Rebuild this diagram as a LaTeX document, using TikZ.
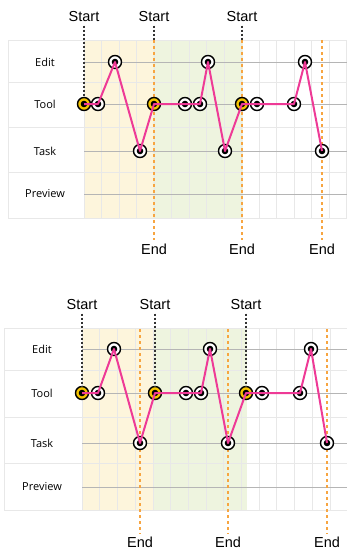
\documentclass[tikz,border=0pt]{standalone}
\usepackage{fontspec}
\usepackage{tikz}
\usetikzlibrary{arrows}
\newfontfamily\rowfont{Open Sans}
\newfontfamily\markfont{Liberation Sans}
\definecolor{bgyellow}{HTML}{FDF5DC}
\definecolor{bggreen}{HTML}{EEF4DF}
\definecolor{gridgray}{HTML}{E8E8E8}
\definecolor{midgray}{HTML}{B5B5B5}
\definecolor{tracepink}{HTML}{EE3A96}
\definecolor{dotyellow}{HTML}{F5C400}
\definecolor{endorange}{HTML}{F7A541}

\begin{document}
\begin{tikzpicture}[x=1pt, y=-1pt,
  pt/.style={draw, circle, line width=1.4pt, fill=white, minimum size=13pt, inner sep=0pt,
    path picture={\fill[black] (path picture bounding box.center) circle (3.3pt);}},
  startpt/.style={pt, fill=dotyellow},
  rowlabel/.style={font=\rowfont\fontsize{11}{13}\selectfont},
  marktext/.style={font=\markfont\fontsize{14.5}{16}\selectfont},
  gridline/.style={gridgray, line width=0.6pt},
  rowline/.style={gridgray, line width=0.9pt},
  midline/.style={midgray, line width=0.8pt},
  startdash/.style={black!80, dashed, dash pattern=on 2pt off 2pt, line width=1.2pt},
  enddash/.style={endorange, dash pattern=on 3pt off 3pt, line width=1.2pt},
  trace/.style={tracepink, line width=2pt, line join=round}]
\useasboundingbox (0,0) rectangle (347,551);

% upper chart
\fill[bgyellow] (84,40) rectangle (153,218);
\fill[bggreen] (153,40) rectangle (243,218);
\foreach \k in {0,...,15} \draw[gridline] (84+17.5*\k,40) -- (84+17.5*\k,218);
\foreach \y in {40,82,127,172,218} \draw[rowline] (8,\y) -- (347,\y);
\draw[rowline] (8,40) -- (8,218);
\foreach \y in {62,104,151,194} \draw[midline] (84,\y) -- (347,\y);

\node[rowlabel] (uedit) at (45,62) {Edit};
\node[rowlabel] (utool) at (45,104) {Tool};
\node[rowlabel] (utask) at (45,151) {Task};
\node[rowlabel] (upreview) at (45,194) {Preview};

\node[marktext] (us1) at (84,17) {Start};
\node[marktext] (us2) at (154,17) {Start};
\node[marktext] (us3) at (242,17) {Start};
\node[marktext] (ue1) at (154,249) {End};
\node[marktext] (ue2) at (242,249) {End};
\node[marktext] (ue3) at (322,249) {End};

\coordinate (ut2) at (154,40);
\coordinate (ut3) at (242,40);
\coordinate (ut4) at (322,40);
\draw[startdash] (us2) -- (ut2);
\draw[startdash] (us3) -- (ut3);
\draw[enddash] (ut2) -- (ue1);
\draw[enddash] (ut3) -- (ue2);
\draw[enddash] (ut4) -- (ue3);

\node[startpt] (a1) at (84,104) {};
\node[pt] (a2) at (98,104) {};
\node[pt] (a3) at (115,62) {};
\node[pt] (a4) at (140,151) {};
\node[startpt] (a5) at (154,104) {};
\node[pt] (a6) at (185,104) {};
\node[pt] (a7) at (200,104) {};
\node[pt] (a8) at (208,62) {};
\node[pt] (a9) at (225,151) {};
\node[startpt] (a10) at (242,104) {};
\node[pt] (a11) at (257,104) {};
\node[pt] (a12) at (294,104) {};
\node[pt] (a13) at (305,62) {};
\node[pt] (a14) at (322,151) {};

\draw[startdash] (us1) -- (a1);
\draw[trace] (a1.center) -- (a2.center) -- (a3.center) -- (a4.center) -- (a5.center)
  -- (a6.center) -- (a7.center) -- (a8.center) -- (a9.center) -- (a10.center)
  -- (a11.center) -- (a12.center) -- (a13.center) -- (a14.center);

% lower chart
\fill[bgyellow] (82,328) rectangle (153,510);
\fill[bggreen] (153,328) rectangle (247,510);
\foreach \k in {0,...,14} \draw[gridline] (82+17.7*\k,328) -- (82+17.7*\k,510);
\foreach \y in {328,370,417,463,510} \draw[rowline] (4,\y) -- (347,\y);
\draw[rowline] (4,328) -- (4,510);
\foreach \y in {349,393,443,487} \draw[midline] (82,\y) -- (347,\y);

\node[rowlabel] (ledit) at (42,349) {Edit};
\node[rowlabel] (ltool) at (42,393) {Tool};
\node[rowlabel] (ltask) at (42,443) {Task};
\node[rowlabel] (lpreview) at (42,487) {Preview};

\node[marktext] (ls1) at (82,305) {Start};
\node[marktext] (ls2) at (155,305) {Start};
\node[marktext] (ls3) at (246,305) {Start};
\node[marktext] (le1) at (140,542) {End};
\node[marktext] (le2) at (228,542) {End};
\node[marktext] (le3) at (327,542) {End};

\coordinate (lt1) at (140,329);
\coordinate (lt2) at (228,329);
\coordinate (lt3) at (327,329);
\draw[enddash] (lt1) -- (le1);
\draw[enddash] (lt2) -- (le2);
\draw[enddash] (lt3) -- (le3);

\node[startpt] (b1) at (82,393) {};
\node[pt] (b2) at (98,393) {};
\node[pt] (b3) at (114,349) {};
\node[pt] (b4) at (140,443) {};
\node[startpt] (b5) at (155,393) {};
\node[pt] (b6) at (186,393) {};
\node[pt] (b7) at (201,393) {};
\node[pt] (b8) at (210,349) {};
\node[pt] (b9) at (228,443) {};
\node[startpt] (b10) at (246,393) {};
\node[pt] (b11) at (262,393) {};
\node[pt] (b12) at (300,393) {};
\node[pt] (b13) at (311,349) {};
\node[pt] (b14) at (327,443) {};

\draw[startdash] (ls1) -- (b1);
\draw[startdash] (ls2) -- (b5);
\draw[startdash] (ls3) -- (b10);
\draw[trace] (b1.center) -- (b2.center) -- (b3.center) -- (b4.center) -- (b5.center)
  -- (b6.center) -- (b7.center) -- (b8.center) -- (b9.center) -- (b10.center)
  -- (b11.center) -- (b12.center) -- (b13.center) -- (b14.center);

\end{tikzpicture}
\end{document}
